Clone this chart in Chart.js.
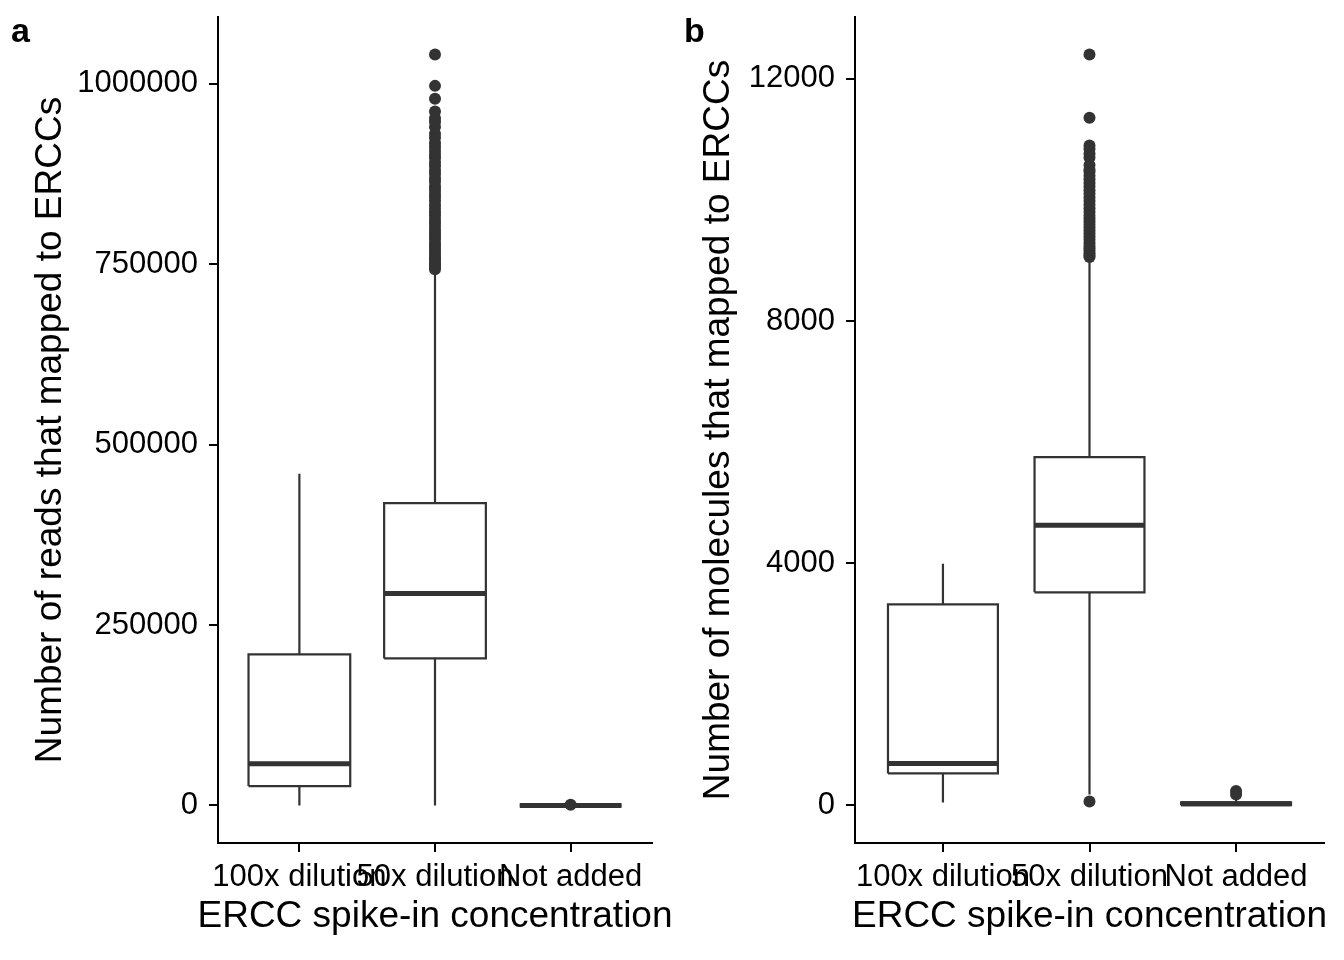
<!DOCTYPE html>
<html>
<head>
<meta charset="utf-8">
<script src="https://cdn.jsdelivr.net/npm/chart.js@4.4.1/dist/chart.umd.min.js"></script>
<style>
  body { margin: 0; background: #fff; }
  #wrap { position: relative; width: 1344px; height: 960px; }
  canvas { position: absolute; top: 0; }
  .tag { position: absolute; top: 13px; font: bold 34px/34px "Liberation Sans", Arial, sans-serif; color: #000; }
</style>
</head>
<body>
<div id="wrap">
  <canvas id="g_reads" width="700" height="960" style="left:0"></canvas>
  <canvas id="g_mols" width="672" height="960" style="left:672px"></canvas>
  <div class="tag" style="left:11px">a</div>
  <div class="tag" style="left:684px">b</div>
</div>
<script>
// categories on the x axis
const categories = ['100x dilution', '50x dilution', 'Not added'];
const xTitle = 'ERCC spike-in concentration';

// panel a : reads mapped to ERCCs
const readsLow = [0, 0, 0];
const readsQ1 = [26800, 203700, 0];
const readsMedian = [57900, 293500, 0];
const readsQ3 = [209300, 419000, 0];
const readsHigh = [459700, 741000, 0];
const readsOut50x = [1040400, 997000, 979000, 961500, 952000, 947000, 940000, 930500, 925000, 918000,
  912500, 907000, 902000, 897000, 891000, 886000, 880000, 875000, 869000, 864000,
  858000, 853000, 848000, 843000, 838000, 832000, 827000, 822000, 817000, 812000,
  807000, 802000, 797000, 792000, 788000, 784000, 779000, 775000, 771000, 767000,
  763000, 759000, 756000, 752000, 749000, 746000, 743000];
const readsOutNone = [900];
const readsTicks = [0, 250000, 500000, 750000, 1000000];

// panel b : molecules mapped to ERCCs
const molsLow = [50, 180, 0];
const molsQ1 = [529, 3520, 5];
const molsMedian = [694, 4628, 30];
const molsQ3 = [3322, 5752, 50];
const molsHigh = [3990, 9030, 110];
const molsOut50x = [12400, 11355, 10897, 10840, 10760, 10700, 10578, 10500, 10463, 10400,
  10340, 10280, 10220, 10160, 10100, 10040, 9980, 9920, 9860, 9800,
  9740, 9690, 9640, 9590, 9540, 9490, 9440, 9390, 9340, 9290,
  9240, 9200, 9160, 9120, 9080, 9055];
const molsOutLow = [66];
const molsOutNone = [180, 240];
const molsTicks = [0, 4000, 8000, 12000];

const ink = '#333333';
const police = '"Liberation Sans", Arial, sans-serif';

//construit les segments d'une boite a moustaches a partir des tableaux
function boxData(low, q1, med, q3, high, outliers) {
    const half = 0.375;
    let whiskers = [], boxes = [], medians = [], points = [];
    for (let i = 0; i < q1.length; i++) {
        const x = i + 1;
        whiskers.push({x: x, y: low[i]}, {x: x, y: q1[i]}, {x: x, y: null},
                      {x: x, y: q3[i]}, {x: x, y: high[i]}, {x: x, y: null});
        boxes.push({x: x - half, y: q1[i]}, {x: x + half, y: q1[i]}, {x: x + half, y: q3[i]},
                   {x: x - half, y: q3[i]}, {x: x - half, y: q1[i]}, {x: x, y: null});
        medians.push({x: x - half, y: med[i]}, {x: x + half, y: med[i]}, {x: x, y: null});
        outliers[i].forEach(v => points.push({x: x, y: v}));
    }
    let seg = (data, w) => ({
        type: 'line', data: data, borderColor: ink, borderWidth: w,
        pointRadius: 0, spanGaps: false, fill: false, tension: 0
    });
    return [
        {type: 'scatter', data: points, pointRadius: 6, backgroundColor: ink, borderWidth: 0},
        seg(whiskers, 2.2),
        seg(boxes, 2.2),
        seg(medians, 5)
    ];
}

//titres des axes : on les dessine nous-memes pour qu'ils puissent deborder de la zone du graphe
const axisTitles = {
    id: 'axisTitles',
    afterDraw(chart, args, opts) {
        const ctx = chart.ctx, area = chart.chartArea;
        ctx.save();
        ctx.fillStyle = '#000';
        ctx.font = '37px ' + police;
        ctx.textAlign = 'center';
        ctx.textBaseline = 'alphabetic';
        ctx.fillText(opts.x, (area.left + area.right) / 2, 927);
        ctx.translate(opts.yBase, (area.top + area.bottom) / 2);
        ctx.rotate(-Math.PI / 2);
        ctx.fillText(opts.y, 0, 0);
        ctx.restore();
    }
};

function boxChart(id, datasets, ticks, yTitle, yWidth, yBase, padRight, allValues) {
    let lo = Math.min(...allValues), hi = Math.max(...allValues);
    let pad = (hi - lo) * 0.05;
    let context = document.getElementById(id).getContext('2d');
    return new Chart(context, {
        type: 'scatter',
        data: {datasets: datasets},
        plugins: [axisTitles],
        options: {
            responsive: false,
            animation: false,
            layout: {padding: {top: 17, right: padRight, left: 0, bottom: 0}},
            plugins: {
                legend: {display: false},
                tooltip: {enabled: false},
                axisTitles: {x: xTitle, y: yTitle, yBase: yBase}
            },
            scales: {
                x: {
                    type: 'linear', min: 0.4, max: 3.6,
                    afterBuildTicks: s => { s.ticks = categories.map((c, i) => ({value: i + 1})); },
                    afterFit: s => { s.height = 117; s.paddingLeft = 0; s.paddingRight = 0; },
                    ticks: {
                        callback: v => categories[v - 1],
                        autoSkip: false, maxRotation: 0, minRotation: 0,
                        color: '#000', padding: 7,
                        font: {family: police, size: 31}
                    },
                    grid: {drawOnChartArea: false, drawTicks: true, tickLength: 9, color: '#000', lineWidth: 2},
                    border: {display: true, color: '#000', width: 2}
                },
                y: {
                    type: 'linear', min: lo - pad, max: hi + pad,
                    afterBuildTicks: s => { s.ticks = ticks.map(v => ({value: v})); },
                    afterFit: s => { s.width = yWidth; s.paddingTop = 0; s.paddingBottom = 0; },
                    ticks: {callback: v => String(v), color: '#000', padding: 11,
                            font: {family: police, size: 31}},
                    grid: {drawOnChartArea: false, drawTicks: true, tickLength: 9, color: '#000', lineWidth: 2},
                    border: {display: true, color: '#000', width: 2}
                }
            }
        }
    });
}

window.addEventListener('load', () => {
    let readsSets = boxData(readsLow, readsQ1, readsMedian, readsQ3, readsHigh, [[], readsOut50x, readsOutNone]);
    boxChart('g_reads', readsSets, readsTicks, 'Number of reads that mapped to ERCCs', 218, 61, 48,
             readsLow.concat(readsHigh, readsOut50x, readsOutNone));
    let molsSets = boxData(molsLow, molsQ1, molsMedian, molsQ3, molsHigh, [[], molsOut50x.concat(molsOutLow), molsOutNone]);
    boxChart('g_mols', molsSets, molsTicks, 'Number of molecules that mapped to ERCCs', 183, 57, 20,
             molsLow.concat(molsHigh, molsOut50x, molsOutLow, molsOutNone));
});
</script>
</body>
</html>
